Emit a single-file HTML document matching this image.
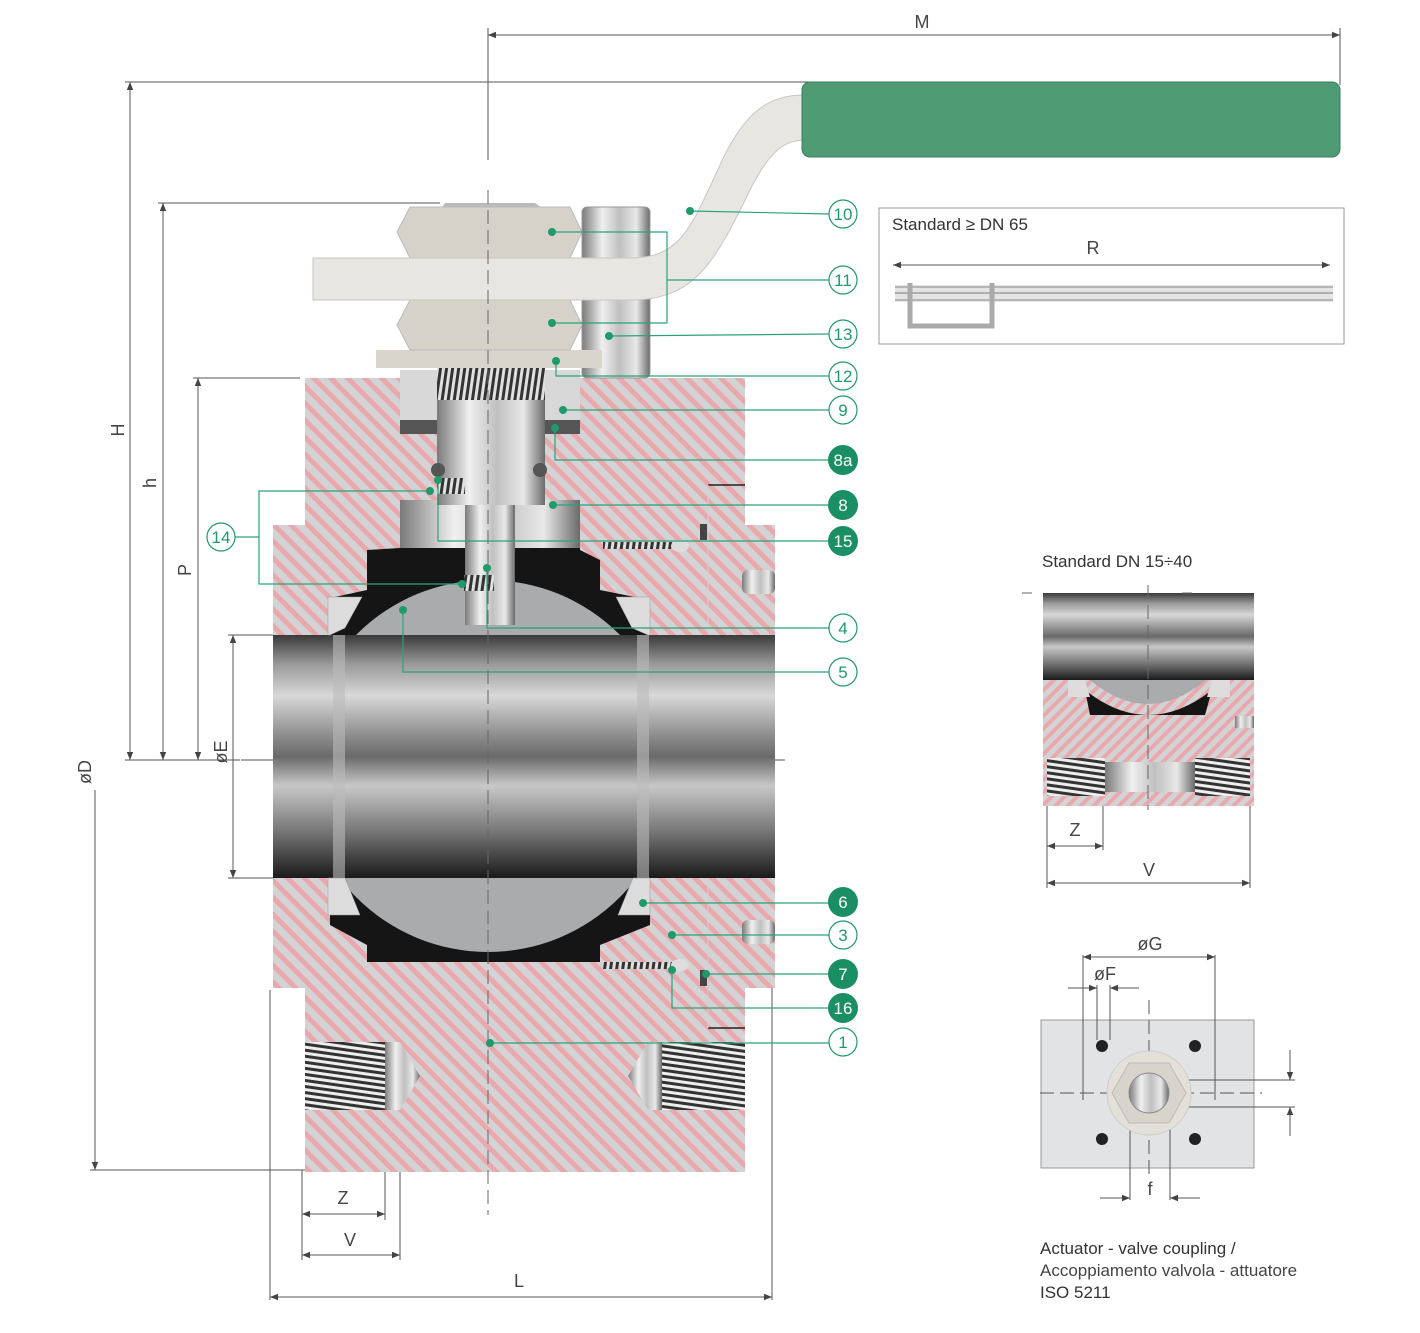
<!DOCTYPE html>
<html><head><meta charset="utf-8"><style>
html,body{margin:0;padding:0;background:#fff;}
svg{display:block;font-family:"Liberation Sans",sans-serif;}
</style></head><body>
<svg width="1420" height="1333" viewBox="0 0 1420 1333" xmlns="http://www.w3.org/2000/svg">
<defs>
<pattern id="hatch" width="12" height="12" patternUnits="userSpaceOnUse" patternTransform="rotate(-45)">
<rect width="12" height="12" fill="#d3d3d6"/><rect width="5" height="12" fill="#e9a9ac"/></pattern>
<pattern id="hatch2" width="9" height="9" patternUnits="userSpaceOnUse" patternTransform="rotate(45)">
<rect width="9" height="9" fill="#d3d3d6"/><rect width="4" height="9" fill="#e9a9ac"/></pattern>
<linearGradient id="bore" x1="0" y1="0" x2="0" y2="1">
<stop offset="0" stop-color="#3a3a3a"/><stop offset="0.12" stop-color="#9a9a9a"/><stop offset="0.25" stop-color="#d8d8d8"/><stop offset="0.42" stop-color="#8a8a8a"/><stop offset="0.5" stop-color="#6a6a6a"/><stop offset="0.62" stop-color="#c8c8c8"/><stop offset="0.8" stop-color="#7a7a7a"/><stop offset="1" stop-color="#1a1a1a"/></linearGradient>
<linearGradient id="metal" x1="0" y1="0" x2="1" y2="0">
<stop offset="0" stop-color="#7a7a7a"/><stop offset="0.3" stop-color="#f0f0f0"/><stop offset="0.55" stop-color="#c0c0c0"/><stop offset="0.8" stop-color="#e8e8e8"/><stop offset="1" stop-color="#6a6a6a"/></linearGradient>
<pattern id="thread" width="6" height="6" patternUnits="userSpaceOnUse" patternTransform="rotate(8)">
<rect width="6" height="6" fill="#e0e0e0"/><rect width="3" height="6" fill="#333"/></pattern>
<pattern id="threadh" width="6" height="6" patternUnits="userSpaceOnUse" patternTransform="rotate(8)">
<rect width="6" height="6" fill="#eee"/><rect width="6" height="3" fill="#333"/></pattern>
<marker id="ar" viewBox="0 0 10 10" refX="10" refY="5" markerWidth="10" markerHeight="8" orient="auto-start-reverse"><path d="M0,1 L10,5 L0,9z" fill="#444"/></marker>
</defs>

<g stroke="#555" stroke-width="1" fill="none">
<line x1="488" y1="35" x2="1340" y2="35" marker-start="url(#ar)" marker-end="url(#ar)"/>
<line x1="488" y1="28" x2="488" y2="160"/>
<line x1="1340" y1="28" x2="1340" y2="85"/>
<line x1="125" y1="82" x2="840" y2="82"/>
<line x1="130" y1="82" x2="130" y2="760" marker-start="url(#ar)" marker-end="url(#ar)"/>
<line x1="158" y1="203" x2="440" y2="203"/>
<line x1="163" y1="203" x2="163" y2="760" marker-start="url(#ar)" marker-end="url(#ar)"/>
<line x1="193" y1="378" x2="300" y2="378"/>
<line x1="198" y1="378" x2="198" y2="760" marker-start="url(#ar)" marker-end="url(#ar)"/>
<line x1="125" y1="760" x2="240" y2="760"/>
<line x1="228" y1="635" x2="275" y2="635"/>
<line x1="228" y1="878" x2="275" y2="878"/>
<line x1="233" y1="635" x2="233" y2="878" marker-start="url(#ar)" marker-end="url(#ar)"/>
<line x1="95" y1="790" x2="95" y2="1170" marker-end="url(#ar)"/>
<line x1="90" y1="1170" x2="305" y2="1170"/>
<line x1="270" y1="990" x2="270" y2="1300"/>
<line x1="772" y1="880" x2="772" y2="1300"/>
<line x1="270" y1="1297" x2="772" y2="1297" marker-start="url(#ar)" marker-end="url(#ar)"/>
<line x1="302" y1="1170" x2="302" y2="1260"/>
<line x1="385" y1="1110" x2="385" y2="1220"/>
<line x1="400" y1="1110" x2="400" y2="1260"/>
<line x1="302" y1="1214" x2="385" y2="1214" marker-start="url(#ar)" marker-end="url(#ar)"/>
<line x1="302" y1="1255" x2="400" y2="1255" marker-start="url(#ar)" marker-end="url(#ar)"/>
<line x1="241" y1="760" x2="790" y2="760" stroke-dasharray="40,6,4,6"/>
</g>
<g font-size="18" fill="#444" text-anchor="middle">
<text x="922" y="28">M</text>
<text x="519" y="1287">L</text>
<text x="343" y="1204">Z</text>
<text x="350" y="1246">V</text>
<text transform="translate(124,430) rotate(-90)">H</text>
<text transform="translate(156,483) rotate(-90)">h</text>
<text transform="translate(191,570) rotate(-90)">P</text>
<text transform="translate(227,752) rotate(-90)">øE</text>
<text transform="translate(91,772) rotate(-90)">øD</text>
</g>

<path d="M305,378 H745 V525 H775 V988 H745 V1172 H305 V988 H273 V525 H305 Z" fill="url(#hatch)"/>
<line x1="708" y1="485" x2="745" y2="485" stroke="#222" stroke-width="1.5"/>
<line x1="708" y1="1028" x2="745" y2="1028" stroke="#222" stroke-width="1.5"/>
<line x1="708" y1="485" x2="708" y2="1028" stroke="#d0d0d0" stroke-width="1"/>
<path d="M400,515 H580 V550 L600,560 V590 L650,600 V635 H330 V598 L367,590 V550 L400,548 Z" fill="#151515"/>
<path d="M330,878 H650 V925 L600,945 V962 H367 V945 L330,925 Z" fill="#151515"/>
<circle cx="488" cy="766" r="186" fill="#a9abad"/>
<rect x="273" y="635" width="502" height="243" fill="url(#bore)"/>
<rect x="333" y="635" width="12" height="243" fill="#bbb" opacity=".6"/>
<rect x="637" y="635" width="12" height="243" fill="#bbb" opacity=".6"/>
<g fill="#dcdcdc" stroke="#999" stroke-width=".5">
<path d="M328,597 H362 L345,628 L330,635 H328Z"/>
<path d="M650,597 H616 L632,628 L648,635 H650Z"/>
<path d="M328,878 H345 L360,915 H328Z"/>
<path d="M650,878 H633 L618,915 H650Z"/>
</g>
<rect x="400" y="500" width="180" height="48" fill="url(#metal)"/>
<rect x="465" y="500" width="50" height="125" fill="url(#metal)"/>
<rect x="437" y="395" width="108" height="110" fill="url(#metal)"/>
<rect x="437" y="350" width="108" height="50" fill="url(#thread)"/>
<rect x="400" y="370" width="37" height="50" fill="#d8d8d8"/>
<rect x="545" y="370" width="35" height="50" fill="#d8d8d8"/>
<rect x="400" y="420" width="37" height="14" fill="#555"/>
<rect x="545" y="420" width="35" height="14" fill="#555"/>
<circle cx="438" cy="470" r="7" fill="#555"/><circle cx="540" cy="470" r="7" fill="#555"/>
<rect x="437" y="478" width="28" height="16" fill="url(#thread)"/>
<rect x="464" y="575" width="30" height="16" fill="url(#thread)"/>
<rect x="603" y="542" width="70" height="7" fill="url(#thread)"/>
<rect x="603" y="962" width="70" height="7" fill="url(#thread)"/>
<ellipse cx="680" cy="546" rx="9" ry="6" fill="#ddd"/>
<ellipse cx="680" cy="965" rx="9" ry="6" fill="#ddd"/>
<rect x="700" y="524" width="7" height="16" fill="#444"/>
<rect x="700" y="970" width="7" height="16" fill="#444"/>
<rect x="742" y="570" width="33" height="24" rx="6" fill="url(#metal)"/>
<rect x="742" y="920" width="33" height="24" rx="6" fill="url(#metal)"/>
<rect x="582" y="207" width="68" height="171" rx="5" fill="url(#metal)" stroke="#999"/>
<rect x="376" y="350" width="226" height="18" fill="#d9d5cc"/>
<path d="M410,300 H570 L582,325 L570,350 H410 L397,325Z" fill="#d6d2c9" stroke="#bbb"/>
<path d="M445,203 H535 L545,210 H440Z" fill="#bbb"/>
<path d="M410,207 H570 L582,232 L570,258 H410 L397,232Z" fill="#d6d2c9" stroke="#bbb"/>
<path d="M313,258 H630 C680,258 690,230 720,165 C745,110 770,95 805,95 V140 C785,140 770,150 750,190 C715,262 695,300 630,300 H313Z" fill="#e8e6e1" stroke="#c8c6c0"/>
<rect x="802" y="82" width="538" height="75" rx="8" fill="#4f9b74" stroke="#3b7d5b"/>
<line x1="488" y1="190" x2="488" y2="1215" stroke="#666" stroke-dasharray="14,6"/>
<rect x="305" y="1042" width="82" height="68" fill="url(#threadh)"/>
<path d="M385,1042 L400,1042 L420,1076 L400,1110 L385,1110Z" fill="url(#metal)"/>
<rect x="662" y="1042" width="83" height="68" fill="url(#threadh)"/>
<path d="M662,1042 L648,1042 L628,1076 L648,1110 L662,1110Z" fill="url(#metal)"/>

<g stroke="#2aa37a" stroke-width="1.2" fill="none">
<polyline points="690,211 829,214"/>
<polyline points="552,232 667,232 667,323 552,323"/>
<polyline points="667,280 829,280"/>
<polyline points="609,336 829,334"/>
<polyline points="556,361 556,376 829,376"/>
<polyline points="563,410 829,410"/>
<polyline points="555,428 555,460 829,460"/>
<polyline points="553,505 829,505"/>
<polyline points="438,480 438,541 829,541"/>
<polyline points="235,537 259,537"/>
<polyline points="430,491 259,491 259,584 462,584"/>
<polyline points="487,568 487,628 829,628"/>
<polyline points="403,610 403,672 829,672"/>
<polyline points="643,903 829,903"/>
<polyline points="672,935 829,935"/>
<polyline points="706,974 829,974"/>
<polyline points="672,970 672,1008 829,1008"/>
<polyline points="490,1043 829,1043"/>
</g>
<g fill="#1f9a6a">
<circle cx="690" cy="211" r="4"/><circle cx="552" cy="232" r="4"/><circle cx="552" cy="323" r="4"/><circle cx="609" cy="336" r="4"/><circle cx="556" cy="361" r="4"/><circle cx="563" cy="410" r="4"/><circle cx="555" cy="428" r="4"/><circle cx="553" cy="505" r="4"/><circle cx="438" cy="480" r="4"/><circle cx="430" cy="491" r="4"/><circle cx="462" cy="584" r="4"/><circle cx="487" cy="568" r="4"/><circle cx="403" cy="610" r="4"/><circle cx="643" cy="903" r="4"/><circle cx="672" cy="935" r="4"/><circle cx="706" cy="974" r="4"/><circle cx="672" cy="970" r="4"/><circle cx="490" cy="1043" r="4"/>
</g>
<g font-size="17" text-anchor="middle">
<g fill="#fff" stroke="#1f9a6a" stroke-width="1.2">
<circle cx="843" cy="214" r="14"/><circle cx="843" cy="280" r="14"/><circle cx="843" cy="334" r="14"/><circle cx="843" cy="376" r="14"/><circle cx="843" cy="410" r="14"/><circle cx="843" cy="628" r="14"/><circle cx="843" cy="672" r="14"/><circle cx="843" cy="935" r="14"/><circle cx="843" cy="1042" r="14"/><circle cx="221" cy="537" r="14"/><circle cx="1317" cy="230" r="14"/>
</g>
<g fill="#1a8f63">
<circle cx="843" cy="460" r="15"/><circle cx="843" cy="505" r="15"/><circle cx="843" cy="541" r="15"/><circle cx="843" cy="902" r="15"/><circle cx="843" cy="974" r="15"/><circle cx="843" cy="1008" r="15"/>
</g>
<g fill="#1f9a6a">
<text x="843" y="220">10</text><text x="843" y="286">11</text><text x="843" y="340">13</text><text x="843" y="382">12</text><text x="843" y="416">9</text><text x="843" y="634">4</text><text x="843" y="678">5</text><text x="843" y="941">3</text><text x="843" y="1048">1</text><text x="221" y="543">14</text><text x="1317" y="236">10</text>
</g>
<g fill="#fff">
<text x="843" y="466">8a</text><text x="843" y="511">8</text><text x="843" y="547">15</text><text x="843" y="908">6</text><text x="843" y="980">7</text><text x="843" y="1014">16</text>
</g>
</g>

<rect x="879" y="208" width="465" height="136" fill="#fff" stroke="#999"/>
<text x="892" y="230" font-size="17" fill="#333">Standard ≥ DN 65</text>
<text x="1093" y="254" font-size="18" fill="#444" text-anchor="middle">R</text>
<line x1="893" y1="265" x2="1330" y2="265" stroke="#555" marker-start="url(#ar)" marker-end="url(#ar)"/>
<rect x="895" y="285" width="438" height="17" fill="#e4e4e4"/>
<line x1="895" y1="287" x2="1333" y2="287" stroke="#888"/>
<line x1="895" y1="293" x2="1333" y2="293" stroke="#777"/>
<line x1="895" y1="300" x2="1333" y2="300" stroke="#888"/>
<path d="M910,283 V326 H992 V283" fill="none" stroke="#aaa" stroke-width="5"/>

<text x="1042" y="567" font-size="17" fill="#333">Standard DN 15÷40</text>
<rect x="1043" y="593" width="211" height="87" fill="url(#bore)"/>
<rect x="1043" y="680" width="211" height="68" fill="url(#hatch2)"/>
<path d="M1085,690 Q1148,740 1212,690 L1205,715 H1090Z" fill="#151515"/>
<path d="M1090,680 Q1148,728 1206,680Z" fill="#a9abad"/>
<path d="M1068,680 H1085 L1090,697 H1068Z" fill="#ddd"/>
<path d="M1230,680 H1212 L1207,697 H1230Z" fill="#ddd"/>
<rect x="1043" y="748" width="211" height="58" fill="url(#hatch2)"/>
<rect x="1047" y="758" width="58" height="38" fill="url(#threadh)"/>
<rect x="1195" y="758" width="55" height="38" fill="url(#threadh)"/>
<rect x="1105" y="762" width="90" height="30" fill="url(#metal)"/>
<rect x="1235" y="716" width="19" height="12" fill="url(#metal)"/>
<line x1="1148" y1="585" x2="1148" y2="810" stroke="#666" stroke-dasharray="14,6"/>
<line x1="1022" y1="593" x2="1275" y2="593" stroke="#666" stroke-dasharray="10,150"/>
<g stroke="#555" fill="none">
<line x1="1047" y1="806" x2="1047" y2="888"/><line x1="1103" y1="806" x2="1103" y2="850"/><line x1="1250" y1="806" x2="1250" y2="888"/>
<line x1="1047" y1="846" x2="1103" y2="846" marker-start="url(#ar)" marker-end="url(#ar)"/>
<line x1="1047" y1="883" x2="1250" y2="883" marker-start="url(#ar)" marker-end="url(#ar)"/>
</g>
<text x="1075" y="836" font-size="18" fill="#444" text-anchor="middle">Z</text>
<text x="1149" y="876" font-size="18" fill="#444" text-anchor="middle">V</text>

<rect x="1041" y="1020" width="213" height="148" fill="#e2e3e5" stroke="#999"/>
<g stroke="#555" fill="none">
<line x1="1083" y1="957" x2="1215" y2="957" marker-start="url(#ar)" marker-end="url(#ar)"/>
<line x1="1083" y1="955" x2="1083" y2="1100"/><line x1="1215" y1="955" x2="1215" y2="1100"/>
<line x1="1068" y1="988" x2="1097" y2="988" marker-end="url(#ar)"/><line x1="1139" y1="988" x2="1110" y2="988" marker-end="url(#ar)"/>
<line x1="1097" y1="985" x2="1097" y2="1040"/><line x1="1110" y1="985" x2="1110" y2="1040"/>
<line x1="1130" y1="1085" x2="1130" y2="1200"/><line x1="1170" y1="1085" x2="1170" y2="1200"/>
<line x1="1100" y1="1198" x2="1130" y2="1198" marker-end="url(#ar)"/><line x1="1200" y1="1198" x2="1170" y2="1198" marker-end="url(#ar)"/>
<line x1="1165" y1="1080" x2="1295" y2="1080"/><line x1="1165" y1="1107" x2="1295" y2="1107"/>
<line x1="1290" y1="1050" x2="1290" y2="1080" marker-end="url(#ar)"/><line x1="1290" y1="1136" x2="1290" y2="1107" marker-end="url(#ar)"/>
<line x1="1040" y1="1093" x2="1262" y2="1093" stroke-dasharray="14,6"/><line x1="1149" y1="1000" x2="1149" y2="1180" stroke-dasharray="14,6"/>
</g>
<circle cx="1149" cy="1093" r="42" fill="#e4e0d8" stroke="#ccc"/>
<path d="M1129,1063 H1169 L1186,1093 L1169,1123 H1129 L1112,1093Z" fill="#d8d4cb" stroke="#bbb"/>
<circle cx="1149" cy="1093" r="20" fill="url(#metal)" stroke="#888"/>
<g fill="#222"><circle cx="1102" cy="1046" r="6"/><circle cx="1195" cy="1046" r="6"/><circle cx="1102" cy="1139" r="6"/><circle cx="1195" cy="1139" r="6"/></g>
<g font-size="18" fill="#444" text-anchor="middle">
<text x="1150" y="950">øG</text><text x="1105" y="980">øF</text><text x="1150" y="1195">f</text></g>
<text x="1040" y="1254" font-size="17" fill="#333">Actuator - valve coupling /</text>
<text x="1040" y="1276" font-size="17" fill="#444">Accoppiamento valvola - attuatore</text>
<text x="1040" y="1298" font-size="17" fill="#333">ISO 5211</text>
</svg>
</body></html>
